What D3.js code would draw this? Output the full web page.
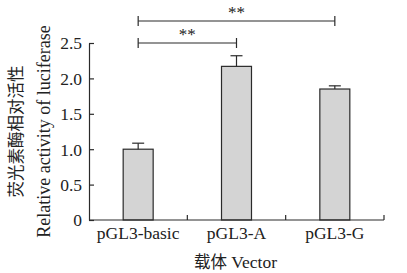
<!DOCTYPE html>
<html>
<head>
<meta charset="utf-8">
<script src="https://cdn.jsdelivr.net/npm/d3@7"></script>
<style>
body { margin: 0; background: #fff; }
text { font-family: "Liberation Serif", "DejaVu Serif", serif; fill: #222; }
.cjk { font-family: "Noto Sans CJK SC", sans-serif; }
</style>
</head>
<body>
<div id="chart"></div>
<script>
var vectors = ["pGL3-basic", "pGL3-A", "pGL3-G"];
var activity = [1.0, 2.17, 1.85];
var errors = [0.085, 0.15, 0.045];
var yTicks = [0, 0.5, 1.0, 1.5, 2.0, 2.5];
var brackets = [
	{from: "pGL3-basic", to: "pGL3-A", level: 0, label: "**"},
	{from: "pGL3-basic", to: "pGL3-G", level: 1, label: "**"}
];

var width = 407, height = 273;
var margin = {left: 89, right: 23, top: 43, bottom: 53};
var w = width - margin.left - margin.right;
var h = height - margin.top - margin.bottom;

var svg = d3.select("#chart").append("svg").attr("width", width).attr("height", height);
var g = svg.append("g").attr("transform", "translate(" + margin.left + "," + margin.top + ")");

var x = d3.scaleBand().domain(vectors).range([0, w]).paddingInner(0.695).paddingOuter(0.3475);
var y = d3.scaleLinear().domain([0, 2.5]).range([h, 0]);

// bars
g.selectAll("rect.bar").data(vectors).enter().append("rect")
	.attr("class", "bar")
	.attr("x", (d) => { return x(d); })
	.attr("y", (d, i) => { return y(activity[i]); })
	.attr("width", x.bandwidth())
	.attr("height", (d, i) => { return h - y(activity[i]); })
	.attr("fill", "#d4d4d4").attr("stroke", "#2a2a2a").attr("stroke-width", 1.2);

// error bars (upper only)
var eb = g.selectAll("g.err").data(vectors).enter().append("g").attr("class", "err");
eb.append("line")
	.attr("x1", (d) => { return x(d) + x.bandwidth() / 2; })
	.attr("x2", (d) => { return x(d) + x.bandwidth() / 2; })
	.attr("y1", (d, i) => { return y(activity[i]); })
	.attr("y2", (d, i) => { return y(activity[i] + errors[i]); })
	.attr("stroke", "#2a2a2a").attr("stroke-width", 1.2);
eb.append("line")
	.attr("x1", (d) => { return x(d) + x.bandwidth() / 2 - 6; })
	.attr("x2", (d) => { return x(d) + x.bandwidth() / 2 + 6; })
	.attr("y1", (d, i) => { return y(activity[i] + errors[i]); })
	.attr("y2", (d, i) => { return y(activity[i] + errors[i]); })
	.attr("stroke", "#2a2a2a").attr("stroke-width", 1.2);

// axes
var yAxis = d3.axisLeft(y).tickValues(yTicks).tickSizeInner(-5).tickSizeOuter(0)
	.tickFormat((d) => { return d === 0 ? "0" : d3.format(".1f")(d); });
var yg = g.append("g").call(yAxis);
yg.selectAll("text").attr("x", -7).attr("dy", "0.34em").style("font-size", "17.5px").attr("font-family", null);
yg.select(".domain").attr("stroke", "#2a2a2a").attr("stroke-width", 1.2);
yg.selectAll(".tick line").attr("stroke", "#2a2a2a").attr("stroke-width", 1.2);

// x axis with inward ticks at band boundaries
var xg = g.append("g").attr("transform", "translate(0," + h + ")");
xg.append("line").attr("x1", 0).attr("x2", w).attr("stroke", "#2a2a2a").attr("stroke-width", 1.2);
var step = x.step();
xg.selectAll("line.tk").data(vectors).enter().append("line").attr("class", "tk")
	.attr("x1", (d) => { return x(d) - x.paddingOuter() * step + step; })
	.attr("x2", (d) => { return x(d) - x.paddingOuter() * step + step; })
	.attr("y1", 0).attr("y2", -5).attr("stroke", "#2a2a2a").attr("stroke-width", 1.2);
xg.selectAll("text.lbl").data(vectors).enter().append("text").attr("class", "lbl")
	.attr("x", (d) => { return x(d) + x.bandwidth() / 2; })
	.attr("y", 18.5).attr("text-anchor", "middle").style("font-size", "17.5px").text((d) => { return d; });

// significance brackets
var br = g.selectAll("g.br").data(brackets).enter().append("g").attr("class", "br");
var by = (d) => { return y(2.5) - 22 * d.level; };
var cx = (v) => { return x(v) + x.bandwidth() / 2; };
br.append("line").attr("x1", (d) => { return cx(d.from); }).attr("x2", (d) => { return cx(d.to); })
	.attr("y1", by).attr("y2", by).attr("stroke", "#2a2a2a").attr("stroke-width", 1.2);
br.append("line").attr("x1", (d) => { return cx(d.from); }).attr("x2", (d) => { return cx(d.from); })
	.attr("y1", (d) => { return by(d) - 5; }).attr("y2", (d) => { return by(d) + 5; }).attr("stroke", "#2a2a2a").attr("stroke-width", 1.2);
br.append("line").attr("x1", (d) => { return cx(d.to); }).attr("x2", (d) => { return cx(d.to); })
	.attr("y1", (d) => { return by(d) - 5; }).attr("y2", (d) => { return by(d) + 5; }).attr("stroke", "#2a2a2a").attr("stroke-width", 1.2);
br.append("text").attr("x", (d) => { return (cx(d.from) + cx(d.to)) / 2; })
	.attr("y", (d) => { return by(d) - 3; }).attr("text-anchor", "middle").style("font-size", "17px")
	.text((d) => { return d.label; });

// axis titles
svg.append("text").attr("class", "cjk").attr("transform", "translate(22," + (margin.top + h / 2) + ") rotate(-90)")
	.attr("text-anchor", "middle").style("font-size", "16.5px").text("荧光素酶相对活性");
svg.append("text").attr("transform", "translate(50," + (margin.top + h / 2) + ") rotate(-90)")
	.attr("text-anchor", "middle").style("font-size", "18px").text("Relative activity of luciferase");
var xt = svg.append("text").attr("x", margin.left + w / 2 - 1).attr("y", 268).attr("text-anchor", "middle").style("font-size", "17.5px");
xt.append("tspan").attr("class", "cjk").style("font-size", "16.5px").text("载体");
xt.append("tspan").text(" Vector");
</script>
</body>
</html>
